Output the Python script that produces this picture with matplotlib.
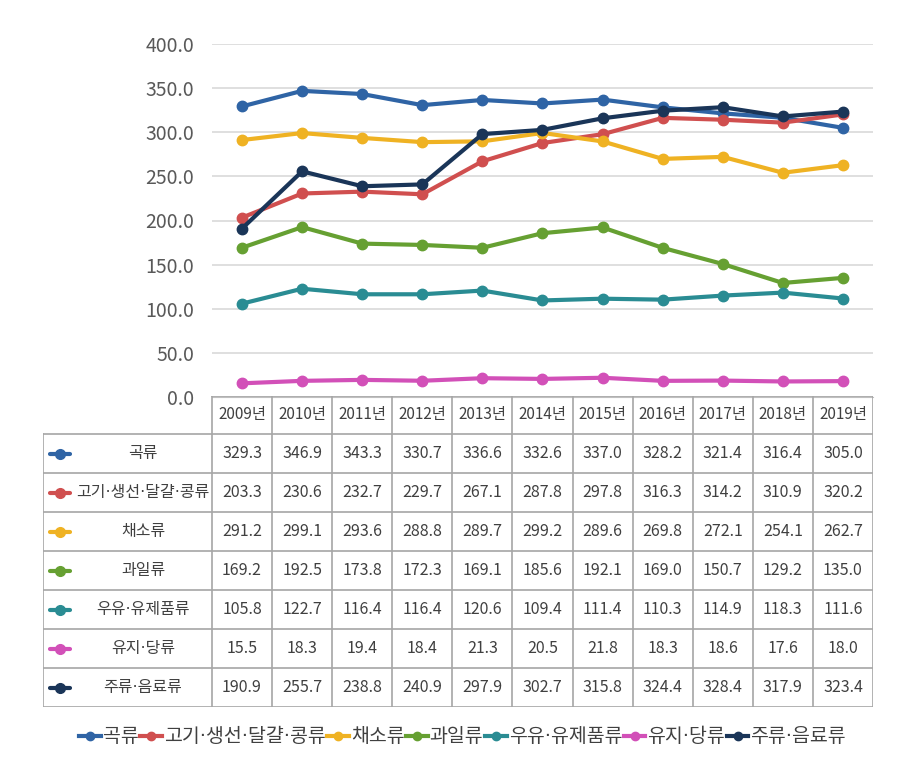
import matplotlib
matplotlib.use('Agg')
import matplotlib.pyplot as plt

plt.rcParams['font.family'] = ['Noto Sans CJK KR', 'DejaVu Sans']
# narrow middle dot from DejaVu, hangul falls back to Noto CJK
name_font = ['DejaVu Sans', 'Noto Sans CJK KR']

years = ['2009년', '2010년', '2011년', '2012년', '2013년', '2014년',
         '2015년', '2016년', '2017년', '2018년', '2019년']
names = ['곡류', '고기·생선·달걀·콩류', '채소류', '과일류', '우유·유제품류', '유지·당류', '주류·음료류']
grain = [329.3, 346.9, 343.3, 330.7, 336.6, 332.6, 337.0, 328.2, 321.4, 316.4, 305.0]
meat = [203.3, 230.6, 232.7, 229.7, 267.1, 287.8, 297.8, 316.3, 314.2, 310.9, 320.2]
veg = [291.2, 299.1, 293.6, 288.8, 289.7, 299.2, 289.6, 269.8, 272.1, 254.1, 262.7]
fruit = [169.2, 192.5, 173.8, 172.3, 169.1, 185.6, 192.1, 169.0, 150.7, 129.2, 135.0]
dairy = [105.8, 122.7, 116.4, 116.4, 120.6, 109.4, 111.4, 110.3, 114.9, 118.3, 111.6]
oil = [15.5, 18.3, 19.4, 18.4, 21.3, 20.5, 21.8, 18.3, 18.6, 17.6, 18.0]
drink = [190.9, 255.7, 238.8, 240.9, 297.9, 302.7, 315.8, 324.4, 328.4, 317.9, 323.4]
series = [grain, meat, veg, fruit, dairy, oil, drink]
colors = ['#2f64a5', '#d04f4f', '#efb223', '#66a032', '#2a8c93', '#d250b8', '#1a3558']

W, H = 902, 764
fig = plt.figure(figsize=(W / 100, H / 100), dpi=100)

# plot area in pixels
x0, x1 = 212, 873
y_top, y_bot = 44, 397
ax = fig.add_axes([x0 / W, 1 - y_bot / H, (x1 - x0) / W, (y_bot - y_top) / H])
xs = range(len(years))
for vals, c, n in zip(series, colors, names):
    ax.plot(xs, vals, color=c, lw=3, marker='o', ms=7.5, label=n, zorder=3)
ax.set_xlim(-0.5, len(years) - 0.5)
ax.set_ylim(0, 400)
ax.set_yticks(range(0, 401, 50))
ax.set_yticklabels([f'{v:.1f}' for v in range(0, 401, 50)], fontsize=14, color='#595959')
ax.tick_params(axis='y', length=0, pad=13)
ax.set_xticks([])
ax.grid(axis='y', color='#d9d9d9', lw=1.2)
ax.set_axisbelow(True)
for s in ['top', 'right', 'left']:
    ax.spines[s].set_visible(False)
ax.spines['bottom'].set_color('#bfbfbf')

# data table drawn in pixel coordinates
tx0 = 43
hdr_top, hdr_bot, tb_bot = 396, 434, 707
tab = fig.add_axes([tx0 / W, 1 - tb_bot / H, (x1 - tx0) / W, (tb_bot - hdr_top) / H])
tab.set_xlim(tx0, x1)
tab.set_ylim(tb_bot, hdr_top)
tab.axis('off')
lc = '#a6a6a6'
col_w = (x1 - x0) / len(years)
row_h = (tb_bot - hdr_bot) / len(names)
for i in range(len(years) + 1):
    tab.plot([x0 + i * col_w] * 2, [hdr_top, tb_bot], color=lc, lw=1.2)
tab.plot([tx0, tx0], [hdr_bot, tb_bot], color=lc, lw=1.2)
tab.plot([x0, x1], [hdr_top, hdr_top], color=lc, lw=1.2)
for j in range(len(names) + 1):
    tab.plot([tx0, x1], [hdr_bot + j * row_h] * 2, color=lc, lw=1.2)
for i, yr in enumerate(years):
    tab.text(x0 + (i + 0.5) * col_w, (hdr_top + hdr_bot) / 2, yr,
             ha='center', va='center', fontsize=11, color='#404040')
for j, (n, vals, c) in enumerate(zip(names, series, colors)):
    yc = hdr_bot + (j + 0.5) * row_h
    tab.plot([50, 70], [yc, yc], color=c, lw=3, solid_capstyle='round')
    tab.plot([60], [yc], marker='o', ms=7, color=c)
    tab.text(143, yc, n, ha='center', va='center', fontsize=11.5, color='#404040',
             family=name_font)
    for i, v in enumerate(vals):
        tab.text(x0 + (i + 0.5) * col_w, yc, f'{v:.1f}',
                 ha='center', va='center', fontsize=11.5, color='#404040')

handles, labels = ax.get_legend_handles_labels()
fig.legend(handles, labels, loc='center', bbox_to_anchor=(0.513, 1 - 737 / H), ncol=7,
           frameon=False, handlelength=1.1, handletextpad=0.1,
           columnspacing=0.1, labelcolor='#404040', markerscale=0.8,
           prop={'size': 14, 'family': name_font})

fig.savefig('out.png', dpi=100)
